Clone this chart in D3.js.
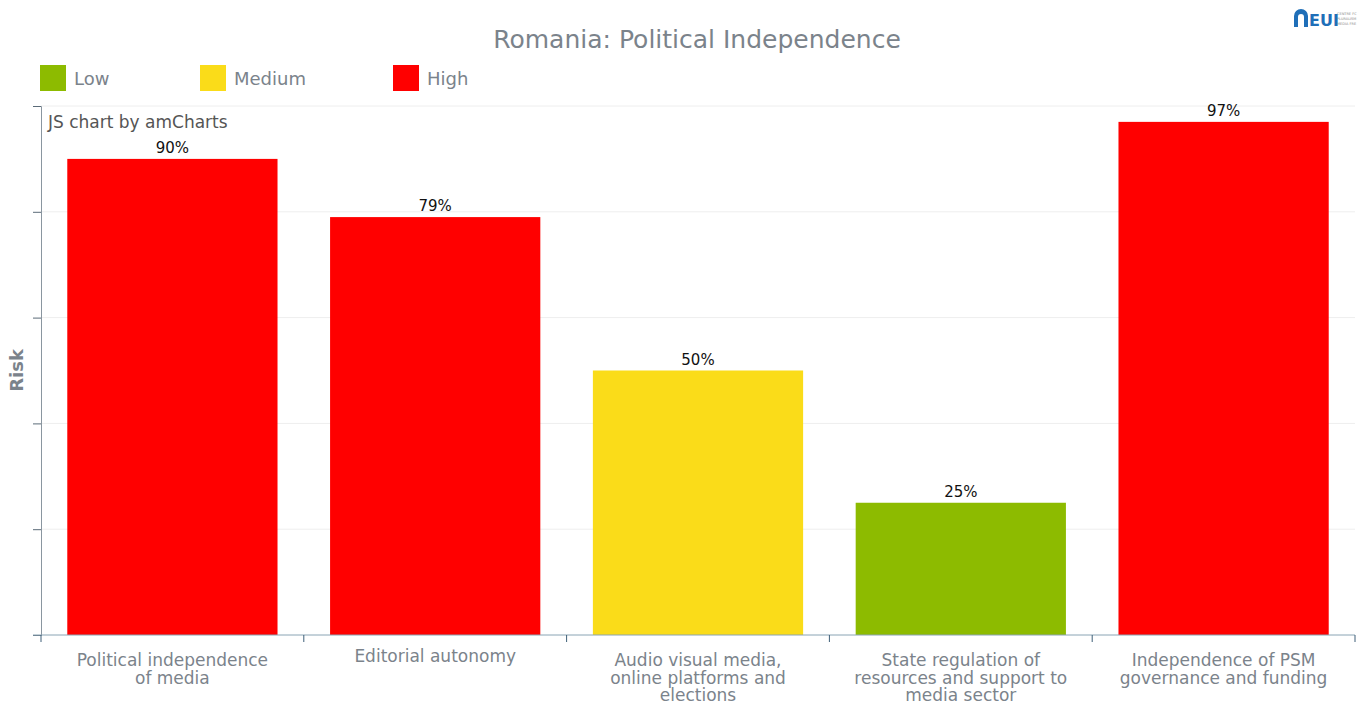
<!DOCTYPE html>
<html>
<head>
<meta charset="utf-8">
<script src="https://cdn.jsdelivr.net/npm/d3@7"></script>
<style>
  body { margin: 0; background: #fff; }
  text { font-family: "DejaVu Sans", Verdana, sans-serif; }
</style>
</head>
<body>
<svg></svg>
<script>
const categories = [
  ['Political independence', 'of media'],
  ['Editorial autonomy'],
  ['Audio visual media,', 'online platforms and', 'elections'],
  ['State regulation of', 'resources and support to', 'media sector'],
  ['Independence of PSM', 'governance and funding']
];
const values = [90, 79, 50, 25, 97];
const risks = ['High', 'High', 'Medium', 'Low', 'High'];
const legendLabels = ['Low', 'Medium', 'High'];
const legendColors = ['#8dbb00', '#fadc19', '#ff0000'];
const yTicks = [0, 20, 40, 60, 80, 100];

const width = 1357;
const height = 703;
const margin = {top: 106, right: 2, bottom: 68, left: 41};
const textGrey = '#7b838b';

window.onload = () => {
  const svg = d3.select('svg')
      .attr('width', width)
      .attr('height', height);

  const color = d3.scaleOrdinal().domain(legendLabels).range(legendColors);

  const x = d3.scaleBand()
      .domain(d3.range(values.length))
      .range([margin.left, width - margin.right])
      .paddingInner(0.2)
      .paddingOuter(0.1);

  const y = d3.scaleLinear()
      .domain([0, 100])
      .range([height - margin.bottom, margin.top]);

  // title
  svg.append('text')
      .attr('x', 697)
      .attr('y', 48)
      .attr('text-anchor', 'middle')
      .attr('font-size', 25)
      .attr('fill', textGrey)
      .text('Romania: Political Independence');

  // legend
  const legend = svg.selectAll('g.legend')
    .data(legendLabels)
    .join('g')
      .attr('class', 'legend')
      .attr('transform', (d, i) => `translate(${[40, 200, 393][i]},65)`);
  legend.append('rect')
      .attr('width', 26)
      .attr('height', 26)
      .attr('fill', d => color(d));
  legend.append('text')
      .attr('x', 34)
      .attr('y', 20)
      .attr('font-size', 18)
      .attr('fill', textGrey)
      .text(d => d);

  // grid
  svg.append('g')
    .selectAll('line')
    .data(yTicks.slice(1))
    .join('line')
      .attr('x1', margin.left)
      .attr('x2', width - margin.right)
      .attr('y1', d => y(d))
      .attr('y2', d => y(d))
      .attr('stroke', '#eeeeee');

  // y axis
  const yAxis = svg.append('g')
      .attr('transform', `translate(${margin.left},0)`)
      .call(d3.axisLeft(y).tickValues(yTicks).tickSize(8).tickFormat(''));
  yAxis.select('.domain').attr('stroke', '#8a96a0');
  yAxis.selectAll('.tick line').attr('stroke', '#5b6b78');

  svg.append('text')
      .attr('transform', `translate(23,${(margin.top + height - margin.bottom) / 2}) rotate(-90)`)
      .attr('text-anchor', 'middle')
      .attr('font-size', 18)
      .attr('font-weight', 'bold')
      .attr('fill', textGrey)
      .text('Risk');

  svg.append('text')
      .attr('x', 48)
      .attr('y', 128)
      .attr('font-size', 17)
      .attr('fill', '#555')
      .text('JS chart by amCharts');

  // bars
  svg.append('g')
    .selectAll('rect')
    .data(values)
    .join('rect')
      .attr('x', (d, i) => x(i))
      .attr('y', d => y(d))
      .attr('width', x.bandwidth())
      .attr('height', d => y(0) - y(d))
      .attr('fill', (d, i) => color(risks[i]));

  svg.append('g')
    .selectAll('text')
    .data(values)
    .join('text')
      .attr('x', (d, i) => x(i) + x.bandwidth() / 2)
      .attr('y', d => y(d) - 6)
      .attr('text-anchor', 'middle')
      .attr('font-size', 15)
      .attr('fill', '#111')
      .text(d => d + '%');

  // x axis
  const step = x.step();
  const boundaries = d3.range(values.length + 1).map(i => margin.left + i * step);
  const xAxis = svg.append('g');
  xAxis.append('line')
      .attr('x1', 33)
      .attr('x2', width - margin.right)
      .attr('y1', y(0))
      .attr('y2', y(0))
      .attr('stroke', '#8aa4b4');
  xAxis.selectAll('line.tick')
    .data(boundaries)
    .join('line')
      .attr('class', 'tick')
      .attr('x1', d => d)
      .attr('x2', d => d)
      .attr('y1', y(0))
      .attr('y2', y(0) + 7)
      .attr('stroke', '#3e5f78');

  const labels = xAxis.selectAll('text')
    .data(categories)
    .join('text')
      .attr('text-anchor', 'middle')
      .attr('font-size', 17)
      .attr('fill', textGrey)
      .attr('x', (d, i) => margin.left + (i + 0.5) * step)
      .attr('y', d => d.length === 1 ? 662 : 666);
  labels.selectAll('tspan')
    .data(d => d)
    .join('tspan')
      .attr('x', function() { return this.parentNode.getAttribute('x'); })
      .attr('dy', (d, i) => i === 0 ? 0 : 17.5)
      .text(d => d);

  // logo
  const logo = svg.append('g').attr('transform', 'translate(1294,9)');
  logo.append('path')
      .attr('d', 'M0,18 L0,7 A7,7 0 0 1 14,7 L14,18 L10,18 L10,8 A3,3 0 0 0 4,8 L4,18 Z')
      .attr('fill', '#1f6fb8');
  logo.append('text')
      .attr('x', 15)
      .attr('y', 17)
      .attr('font-size', 16)
      .attr('font-weight', 'bold')
      .attr('fill', '#1f6fb8')
      .text('EUI');
  ['CENTRE FC', 'PLURALISM', 'MEDIA FRE'].forEach((t, i) => {
    logo.append('text')
        .attr('x', 43)
        .attr('y', 6 + i * 5)
        .attr('font-size', 3.5)
        .attr('fill', '#8a8a8a')
        .text(t);
  });
};
</script>
</body>
</html>
